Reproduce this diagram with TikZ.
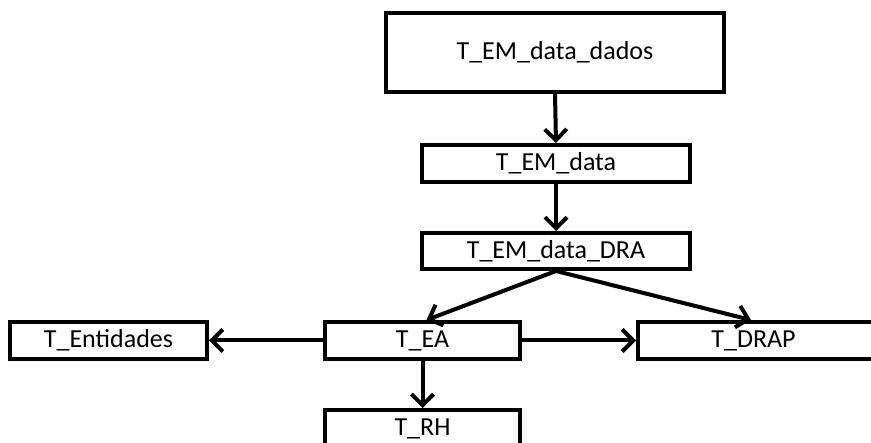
\documentclass[tikz,border=0pt]{standalone}
\usepackage{fontspec}
\setmainfont{Carlito}
\usetikzlibrary{arrows.meta}
\begin{document}
\begin{tikzpicture}[x=1pt,y=-1pt,
  tbl/.style={draw=black, line width=4pt, rectangle, inner sep=0pt, font=\fontsize{26}{30}\selectfont, fill=white},
  conn/.style={line width=4pt, -{Straight Barb[length=11pt,width=22pt,line width=4pt]}}]
\useasboundingbox (0,0) rectangle (871,443);
\node[tbl, minimum width=338pt, minimum height=79pt] (dados) at (555,52.5) {T\_EM\_data\_dados};
\node[tbl, minimum width=268pt, minimum height=37pt] (data) at (556,163.5) {T\_EM\_data};
\node[tbl, minimum width=268pt, minimum height=36pt] (dra) at (556,251) {T\_EM\_data\_DRA};
\node[tbl, minimum width=197pt, minimum height=37pt] (ent) at (108.5,340.5) {T\_Entidades};
\node[tbl, minimum width=195pt, minimum height=37pt] (ea) at (422.5,340.5) {T\_EA};
\node[tbl, minimum width=247pt, minimum height=37pt] (drap) at (761.5,340.5) {\hspace*{-16pt}T\_DRAP};
\node[tbl, minimum width=195pt, minimum height=37pt] (rh) at (422.5,428.5) {T\_RH};
\draw[conn] (dados.south) -- (data.north);
\draw[conn] (data.south) -- (dra.north);
\draw[conn] (dra.south) -- ([xshift=4pt]ea.north);
\draw[conn] (dra.south) -- ([xshift=115pt]drap.north west);
\draw[conn] (ea.west) -- (ent.east);
\draw[conn] (ea.east) -- (drap.west);
\draw[conn] (ea.south) -- (rh.north);
\end{tikzpicture}
\end{document}
